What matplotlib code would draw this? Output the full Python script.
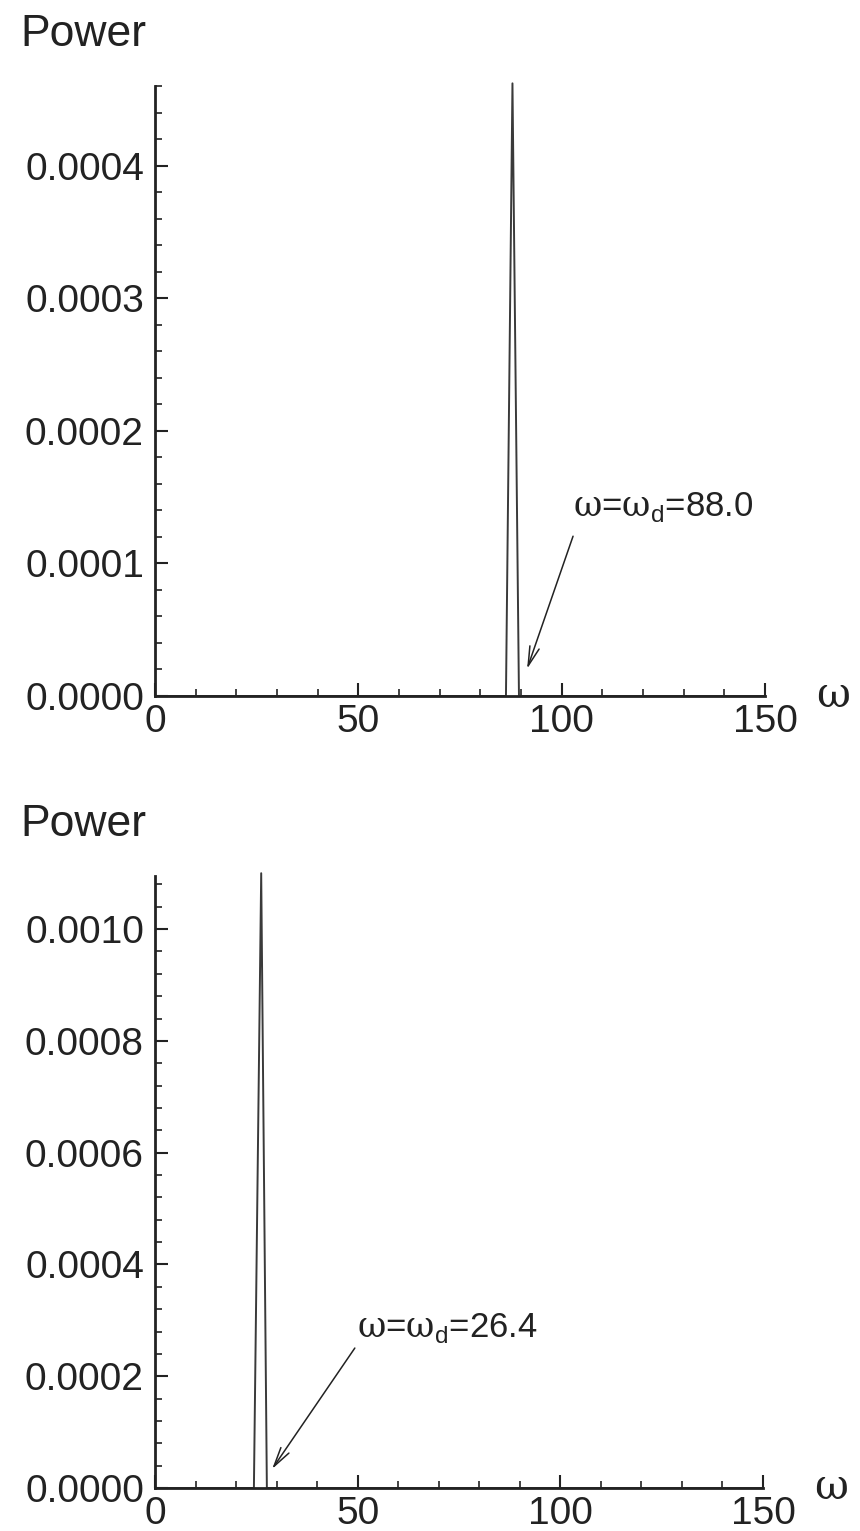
import matplotlib
matplotlib.use("Agg")
import matplotlib.pyplot as plt
from matplotlib.ticker import MultipleLocator, FormatStrFormatter

plt.rcParams['font.family'] = ['Liberation Sans', 'DejaVu Sans']
plt.rcParams['mathtext.fontset'] = 'custom'
plt.rcParams['mathtext.rm'] = 'DejaVu Serif'
plt.rcParams['mathtext.sf'] = 'Liberation Sans'

# spectrum data
omega_top = [0.0, 86.3, 87.9, 89.5, 150.0]
power_top = [0.0, 0.0, 0.000462, 0.0, 0.0]
omega_bot = [0.0, 24.4, 26.2, 27.6, 150.0]
power_bot = [0.0, 0.0, 0.0011, 0.0, 0.0]

label_top = r'$\mathrm{\omega}$=$\mathrm{\omega}_\mathsf{d}$=88.0'
label_bot = r'$\mathrm{\omega}$=$\mathrm{\omega}_\mathsf{d}$=26.4'

W, H = 860, 1531
fig = plt.figure(figsize=(W / 100, H / 100), dpi=100)
ax1 = fig.add_axes([155 / W, 1 - 696 / H, 610 / W, 610 / H])
ax2 = fig.add_axes([155 / W, 1 - 1488 / H, 608 / W, 612 / H])

line_c = '#3a3a3a'
axis_c = '#222222'


def style(ax, ytop, ymajor, yminor):
    ax.set_xlim(0, 150)
    ax.set_ylim(0, ytop)
    for s in ['top', 'right']:
        ax.spines[s].set_visible(False)
    for s in ['left', 'bottom']:
        ax.spines[s].set_linewidth(2)
        ax.spines[s].set_color(axis_c)
    ax.xaxis.set_major_locator(MultipleLocator(50))
    ax.xaxis.set_minor_locator(MultipleLocator(10))
    ax.yaxis.set_major_locator(MultipleLocator(ymajor))
    ax.yaxis.set_minor_locator(MultipleLocator(yminor))
    ax.yaxis.set_major_formatter(FormatStrFormatter('%.4f'))
    ax.tick_params(which='both', direction='in', colors=axis_c, labelsize=28)
    ax.tick_params(which='major', length=9.5, width=1.5)
    ax.tick_params(which='minor', length=5, width=1.2)
    ax.tick_params(axis='x', pad=6)
    ax.tick_params(axis='y', pad=8)
    ax.text(1.111, 0.0, r'$\mathrm{\omega}$', transform=ax.transAxes,
            fontsize=30, ha='center', va='center', color=axis_c)


style(ax1, 0.00046, 0.0001, 0.00002)
style(ax2, 0.001095, 0.0002, 0.00004)

ax1.plot(omega_top, power_top, color=line_c, lw=1.4, clip_on=False)
ax2.plot(omega_bot, power_bot, color=line_c, lw=1.4, clip_on=False)

fig.text(20 / W, 1 - 35 / H, 'Power', fontsize=32, va='center', ha='left', color=axis_c)
fig.text(20 / W, 1 - 824 / H, 'Power', fontsize=32, va='center', ha='left', color=axis_c)

arrow = dict(arrowstyle='->,head_length=1.4,head_width=0.35', lw=1.1, color=axis_c,
             shrinkA=0, shrinkB=0)
ax1.annotate('', xy=(91.5, 0.0000205), xytext=(102.8, 0.0001205), arrowprops=arrow)
ax1.text(102.8, 0.0001424, label_top, fontsize=25, ha='left', va='center', color=axis_c)
ax2.annotate('', xy=(28.9, 0.000034), xytext=(49.3, 0.0002504), arrowprops=arrow)
ax2.text(49.8, 0.000286, label_bot, fontsize=25, ha='left', va='center', color=axis_c)

fig.savefig('out.png', dpi=100)
